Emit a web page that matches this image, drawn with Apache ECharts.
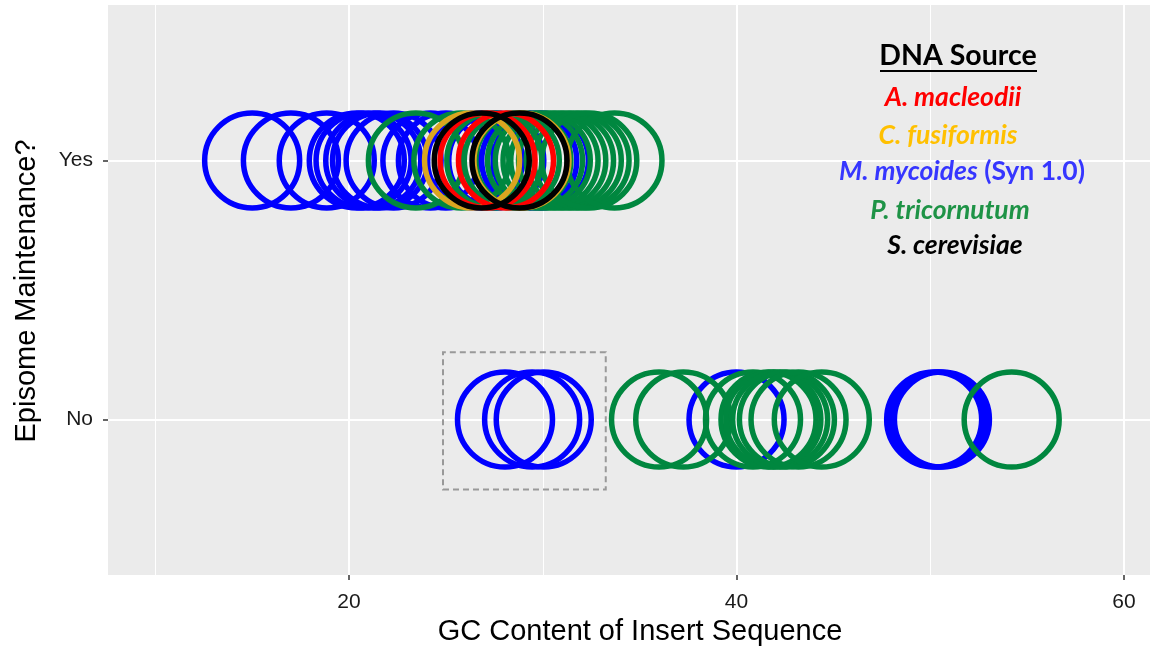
<!DOCTYPE html>
<html>
<head>
<meta charset="utf-8">
<script src="https://cdn.jsdelivr.net/npm/echarts@6/dist/echarts.min.js"></script>
<style>
  html, body { margin: 0; padding: 0; background: #ffffff; }
  #chart { width: 1163px; height: 649px; }
</style>
</head>
<body>
<div id="chart"></div>
<script>
// Episome maintenance (No = 1, Yes = 2) against GC content of the insert sequence
const maintenanceLabels = ['No', 'Yes'];
const xTicks = [20, 40, 60];
const xMinorGrid = [10, 30, 50];

// GC content (%) per DNA source, split by outcome
const mycoidesYes = [15.0, 17.0, 18.85, 20.4, 20.75, 21.25, 21.6, 22.3, 24.2, 25.0, 26.5, 27.6, 29.3, 29.9];
const mycoidesNo = [28.05, 29.45, 30.05, 40.0, 50.2, 50.4, 50.6];
const tricornutumYes = [23.45, 25.8, 27.5, 28.4, 29.0, 29.6, 30.0, 30.4, 30.8, 31.2, 31.6, 32.0, 32.4, 33.7];
const tricornutumNo = [36.0, 37.25, 40.85, 41.65, 41.9, 42.25, 42.6, 43.2, 44.4, 54.2];
const fusiformisYes = [26.35, 28.9];
const macleodiiYes = [27.15, 28.1];
const cerevisiaeYes = [26.85, 28.8];

// Highlighted region around the low-GC "No" inserts
const boxX = [24.85, 33.25];
const boxY = [0.73, 1.26];

const ringColors = {
  mycoides: '#0000ff',
  tricornutum: '#00873f',
  fusiformis: '#daa520',
  macleodii: '#ff0000',
  cerevisiae: '#000000'
};

function points(yesVals, noVals) {
  const out = [];
  (noVals || []).forEach(v => out.push([v, 1]));
  (yesVals || []).forEach(v => out.push([v, 2]));
  return out;
}

function ringSeries(name, data, color, z) {
  return {
    name: name,
    type: 'scatter',
    data: data,
    symbol: 'circle',
    symbolSize: 95,
    z: z,
    silent: true,
    itemStyle: { color: 'rgba(0,0,0,0)', borderColor: color, borderWidth: 5.5, opacity: 1 }
  };
}

const chart = echarts.init(document.getElementById('chart'), null, { renderer: 'canvas' });

const gridLines = [];
xMinorGrid.forEach(v => gridLines.push({ xAxis: v, lineStyle: { width: 1 } }));
xTicks.forEach(v => gridLines.push({ xAxis: v, lineStyle: { width: 2 } }));
[1, 2].forEach(v => gridLines.push({ yAxis: v, lineStyle: { width: 2 } }));

const axisFont = 'Liberation Sans, Arial, Helvetica, sans-serif';
const legendFont = 'Lato, "Open Sans", sans-serif';
const keySize = 26.5;

chart.setOption({
  animation: false,
  backgroundColor: '#ffffff',
  grid: {
    left: 108, right: 13, top: 5, bottom: 74,
    show: true, backgroundColor: '#ebebeb', borderWidth: 0
  },
  xAxis: {
    type: 'value',
    min: 7.56,
    max: 61.34,
    axisLine: { show: false },
    splitLine: { show: false },
    axisTick: { show: true, customValues: xTicks, length: 5, lineStyle: { color: '#333333', width: 1.5 } },
    axisLabel: { customValues: xTicks, margin: 17, fontSize: 21, color: '#1a1a1a', fontFamily: axisFont }
  },
  yAxis: {
    type: 'value',
    min: 0.4,
    max: 2.6,
    axisLine: { show: false },
    splitLine: { show: false },
    axisTick: { show: true, customValues: [1, 2], length: 5, lineStyle: { color: '#333333', width: 1.5 } },
    axisLabel: {
      customValues: [1, 2], margin: 15, fontSize: 21, color: '#1a1a1a', fontFamily: axisFont,
      formatter: v => maintenanceLabels[Math.round(v) - 1]
    }
  },
  series: [
    {
      type: 'scatter',
      data: [],
      z: 1,
      silent: true,
      markLine: {
        z: 1,
        silent: true,
        symbol: 'none',
        label: { show: false },
        lineStyle: { color: '#ffffff', type: 'solid' },
        data: gridLines,
        animation: false
      }
    },
    ringSeries('M. mycoides (Syn 1.0)', points(mycoidesYes, mycoidesNo), ringColors.mycoides, 2),
    ringSeries('P. tricornutum', points(tricornutumYes, tricornutumNo), ringColors.tricornutum, 3),
    ringSeries('C. fusiformis', points(fusiformisYes), ringColors.fusiformis, 4),
    ringSeries('A. macleodii', points(macleodiiYes), ringColors.macleodii, 5),
    ringSeries('S. cerevisiae', points(cerevisiaeYes), ringColors.cerevisiae, 6),
    {
      type: 'scatter',
      data: [],
      z: 7,
      silent: true,
      markArea: {
        z: 7,
        silent: true,
        itemStyle: { color: 'rgba(0,0,0,0)', borderColor: '#999999', borderWidth: 2, borderType: [6, 4] },
        data: [[{ xAxis: boxX[0], yAxis: boxY[0] }, { xAxis: boxX[1], yAxis: boxY[1] }]]
      }
    }
  ],
  graphic: [
    // axis titles
    {
      type: 'text', x: 640, y: 632, z: 10,
      style: { text: 'GC Content of Insert Sequence', fontSize: 29, fontFamily: axisFont, fill: '#000000', align: 'center', verticalAlign: 'middle' }
    },
    {
      type: 'text', x: 27, y: 291, rotation: Math.PI / 2, z: 10,
      style: { text: 'Episome Maintenance?', fontSize: 29, fontFamily: axisFont, fill: '#000000', align: 'center', verticalAlign: 'middle' }
    },
    // DNA source key
    {
      type: 'text', x: 958, y: 56, z: 10,
      style: { text: 'DNA Source', fontSize: 28.5, fontWeight: 'bold', fontFamily: legendFont, fill: '#000000', align: 'center', verticalAlign: 'middle' }
    },
    {
      type: 'line', z: 10,
      shape: { x1: 880, y1: 71, x2: 1037, y2: 71 },
      style: { stroke: '#000000', lineWidth: 2 }
    },
    {
      type: 'text', x: 953, y: 97, z: 10,
      style: { text: 'A. macleodii', fontSize: keySize, fontWeight: 'bold', fontStyle: 'italic', fontFamily: legendFont, fill: '#ff0000', align: 'center', verticalAlign: 'middle' }
    },
    {
      type: 'text', x: 948, y: 135, z: 10,
      style: { text: 'C. fusiformis', fontSize: keySize, fontWeight: 'bold', fontStyle: 'italic', fontFamily: legendFont, fill: '#ffc000', align: 'center', verticalAlign: 'middle' }
    },
    {
      type: 'text', x: 962, y: 171, z: 10,
      style: {
        text: '{i|M. mycoides}{n|\u00a0(Syn 1.0)}',
        align: 'center', verticalAlign: 'middle',
        rich: {
          i: { fontSize: keySize, fontWeight: 'bold', fontStyle: 'italic', fontFamily: legendFont, fill: '#3636ff', color: '#3636ff' },
          n: { fontSize: keySize, fontWeight: 'bold', fontFamily: legendFont, fill: '#3636ff', color: '#3636ff' }
        }
      }
    },
    {
      type: 'text', x: 950, y: 210, z: 10,
      style: { text: 'P. tricornutum', fontSize: keySize, fontWeight: 'bold', fontStyle: 'italic', fontFamily: legendFont, fill: '#1e9346', align: 'center', verticalAlign: 'middle' }
    },
    {
      type: 'text', x: 955, y: 245, z: 10,
      style: { text: 'S. cerevisiae', fontSize: keySize, fontWeight: 'bold', fontStyle: 'italic', fontFamily: legendFont, fill: '#000000', align: 'center', verticalAlign: 'middle' }
    }
  ]
});
</script>
</body>
</html>
